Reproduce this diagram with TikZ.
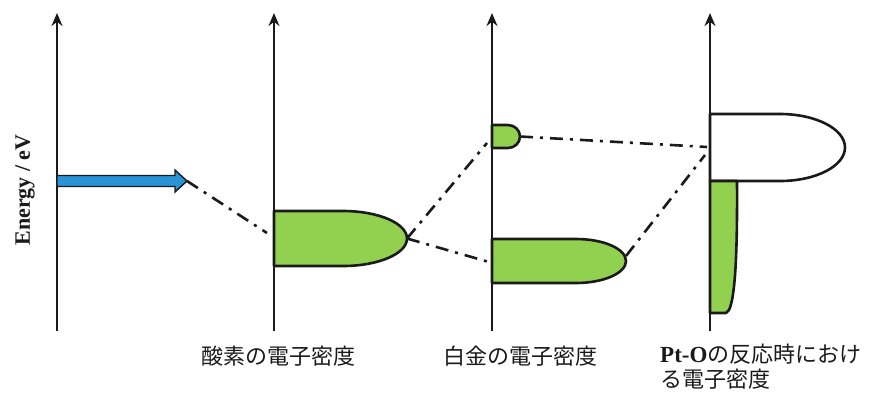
\documentclass[tikz,border=0pt]{standalone}
\usepackage{fontspec}
\setmainfont{Liberation Serif}
\newfontfamily\jpfont{Noto Sans CJK JP}
\usetikzlibrary{arrows.meta}
\definecolor{bandgreen}{HTML}{92D050}
\definecolor{arrowblue}{HTML}{2A93D5}
\definecolor{inkdark}{HTML}{1A1A1A}
\tikzset{
  axisline/.style={line width=2.8pt, draw=inkdark, -{Stealth[length=13pt,width=11pt]}},
  band/.style={line width=2.6pt, draw=inkdark, fill=bandgreen, line join=round},
  emptyband/.style={line width=2.6pt, draw=inkdark, fill=white, line join=round},
  dashdotline/.style={line width=2.6pt, draw=inkdark, dash pattern=on 13pt off 7pt on 3pt off 7pt},
  jplabel/.style={font=\jpfont\fontsize{22}{25}\selectfont, inner sep=0pt, anchor=west, align=left, text=inkdark},
}
\begin{document}
\begin{tikzpicture}[x=1pt,y=-1pt]
\useasboundingbox (0,0) rectangle (881,392);
% axes
\coordinate (a1b) at (57,331); \coordinate (a1t) at (57,13);
\coordinate (a2b) at (274,331); \coordinate (a2t) at (274,13);
\coordinate (a3b) at (492,331); \coordinate (a3t) at (492,13);
\coordinate (a4b) at (710,331); \coordinate (a4t) at (710,13);
\draw[axisline] (a1b) -- (a1t);
\draw[axisline] (a2b) -- (a2t);
\draw[axisline] (a3b) -- (a3t);
\draw[axisline] (a4b) -- (a4t);
% energy label
\node[rotate=90, font=\bfseries\fontsize{22}{24}\selectfont, inner sep=0pt, text=inkdark] (elabel) at (25,190) {Energy / eV};
% blue arrow
\draw[line width=1.4pt, draw=inkdark, fill=arrowblue, line join=miter]
  (57,175.5) -- (175,175.5) -- (175,170) -- (187,181) -- (175,192) -- (175,186.5) -- (57,186.5) -- cycle;
\coordinate (bluetip) at (187,181);
% oxygen band
\draw[band] (274,211) -- (343,211) arc[start angle=-90, end angle=90, x radius=64, y radius=27.5] -- (274,266) -- cycle;
\coordinate (otip) at (407,238.5);
% platinum small band
\draw[band] (492,125) -- (508,125) arc[start angle=-90, end angle=90, x radius=12, y radius=11.5] -- (492,148) -- cycle;
\coordinate (ptuptip) at (520,136.5);
% platinum large band
\draw[band] (492,239) -- (576,239) arc[start angle=-90, end angle=90, x radius=50, y radius=22] -- (492,283) -- cycle;
\coordinate (ptlotip) at (626,256);
% Pt-O empty band
\draw[emptyband] (710,114) -- (780,114) arc[start angle=-90, end angle=90, x radius=65, y radius=33.5] -- (710,181) -- cycle;
% Pt-O narrow green band
\draw[band] (710,181) -- (737,181) .. controls (737.5,255) and (735,298) .. (729,310) -- (726,313) -- (710,313) -- cycle;
% axes redrawn on top of bands
\draw[line width=2.8pt, draw=inkdark] (a2b) -- (274,100);
\draw[line width=2.8pt, draw=inkdark] (a3b) -- (492,100);
\draw[line width=2.8pt, draw=inkdark] (a4b) -- (710,100);
% connector end points
\coordinate (oleft) at (267,233);
\coordinate (ptupend) at (487,143);
\coordinate (ptloend) at (489,262);
\coordinate (ptoend1) at (707,147);
\coordinate (ptoend2) at (705,155);
% dash-dot connectors
\draw[dashdotline] (bluetip) -- (oleft);
\draw[dashdotline] (otip) -- (ptupend);
\draw[dashdotline] (otip) -- (ptloend);
\draw[dashdotline] (ptuptip) -- (ptoend1);
\draw[dashdotline] (ptlotip) -- (ptoend2);
% labels
\node[jplabel] (lo) at (201,356) {酸素の電子密度};
\node[jplabel] (lpt) at (443,356) {白金の電子密度};
\node[jplabel] (lpto) at (660,367) {{\rmfamily\bfseries\fontsize{23}{25}\selectfont Pt-O}の反応時におけ\\る電子密度};
\end{tikzpicture}
\end{document}
